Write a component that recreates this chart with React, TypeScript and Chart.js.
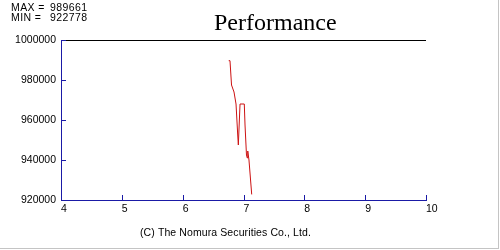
import React, { useEffect, useRef } from "react";
import { Chart, registerables } from "chart.js";

Chart.register(...registerables);

const xValues = [6.757, 6.778, 6.803, 6.844, 6.877, 6.905, 6.915, 6.943, 7.013, 7.025, 7.049, 7.062, 7.07, 7.09, 7.135];
const yValues = [989661, 989661, 977500, 974000, 968000, 952500, 947500, 968000, 968000, 957500, 942500, 941000, 944500, 940000, 922778];
const xTicks = [4, 5, 6, 7, 8, 9, 10];
const yTicks = [920000, 940000, 960000, 980000, 1000000];
const title = "Performance";
const maxLabel = "MAX =";
const minLabel = "MIN =";
const maxValue = "989661";
const minValue = "922778";
const copyright = "(C) The Nomura Securities Co., Ltd.";

const AXIS_BLUE = "#1a1aa6";
const LINE_RED = "#cc1111";
const SANS = "'Liberation Sans', Arial, sans-serif";

const decorPlugin = {
  id: "decor",
  afterDraw(chart: any) {
    const ctx = chart.ctx as CanvasRenderingContext2D;
    const { left, right, top, bottom } = chart.chartArea;
    const xs = chart.scales.x;
    const ys = chart.scales.y;
    ctx.save();
    // top black line
    ctx.strokeStyle = "#000";
    ctx.lineWidth = 1;
    ctx.beginPath();
    ctx.moveTo(left, Math.round(top) + 0.5);
    ctx.lineTo(right, Math.round(top) + 0.5);
    ctx.stroke();
    // inward ticks
    ctx.strokeStyle = AXIS_BLUE;
    ctx.beginPath();
    xTicks.forEach((v) => {
      const px = Math.round(xs.getPixelForValue(v)) + 0.5;
      ctx.moveTo(px, bottom);
      ctx.lineTo(px, bottom - 5);
    });
    yTicks.forEach((v) => {
      const py = Math.round(ys.getPixelForValue(v)) + 0.5;
      ctx.moveTo(left, py);
      ctx.lineTo(left + 5, py);
    });
    ctx.stroke();
    // frame border right/bottom
    ctx.strokeStyle = "#c4c4c4";
    ctx.beginPath();
    ctx.moveTo(498.5, 0);
    ctx.lineTo(498.5, 249);
    ctx.moveTo(0, 248.5);
    ctx.lineTo(499, 248.5);
    ctx.stroke();
    // texts
    ctx.fillStyle = "#000";
    ctx.textBaseline = "alphabetic";
    ctx.textAlign = "left";
    ctx.font = `10.5px ${SANS}`;
    (ctx as any).letterSpacing = "0.4px";
    ctx.fillText(maxLabel, 11, 11);
    ctx.fillText(maxValue, 50, 11);
    ctx.fillText(minLabel, 11, 20.5);
    ctx.fillText(minValue, 50, 20.5);
    (ctx as any).letterSpacing = "0px";
    ctx.font = `24px 'Liberation Serif', 'Times New Roman', serif`;
    ctx.fillText(title, 214, 29.5);
    ctx.font = `10.5px ${SANS}`;
    (ctx as any).letterSpacing = "0.1px";
    ctx.fillText(copyright, 140, 235.5);
    ctx.restore();
  },
};

export default function App() {
  const ref = useRef<HTMLCanvasElement | null>(null);
  useEffect(() => {
    if (!ref.current) return;
    const chart = new Chart(ref.current, {
      type: "line",
      data: {
        datasets: [
          {
            data: xValues.map((x, i) => ({ x, y: yValues[i] })),
            borderColor: LINE_RED,
            borderWidth: 1,
            pointRadius: 0,
            tension: 0,
            fill: false,
          },
        ],
      },
      options: {
        animation: false,
        responsive: false,
        devicePixelRatio: 1,
        layout: { padding: { top: 40, right: 74, left: 0, bottom: 0 } },
        plugins: { legend: { display: false }, tooltip: { enabled: false }, title: { display: false } },
        scales: {
          x: {
            type: "linear",
            min: 4,
            max: 10,
            afterBuildTicks: (s: any) => {
              s.ticks = xTicks.map((v) => ({ value: v }));
            },
            afterFit: (s: any) => {
              s.height = 50;
            },
            grid: { display: false, drawTicks: false },
            border: { display: true, color: AXIS_BLUE, width: 1 },
            ticks: {
              align: "start",
              padding: 3,
              color: "#000",
              maxRotation: 0,
              font: { family: SANS, size: 10.5 },
              callback: (v: any) => String(v),
            },
          },
          y: {
            type: "linear",
            min: 920000,
            max: 1000000,
            afterBuildTicks: (s: any) => {
              s.ticks = yTicks.map((v) => ({ value: v }));
            },
            afterFit: (s: any) => {
              s.width = 61;
            },
            grid: { display: false, drawTicks: false },
            border: { display: true, color: AXIS_BLUE, width: 1 },
            ticks: {
              padding: 5,
              color: "#000",
              font: { family: SANS, size: 10.5 },
              callback: (v: any) => String(v),
            },
          },
        },
      },
      plugins: [decorPlugin],
    } as any);
    return () => chart.destroy();
  }, []);
  return (
    <div style={{ position: "absolute", left: 0, top: 0, width: 500, height: 250, background: "#fff" }}>
      <canvas ref={ref} width={500} height={250} style={{ display: "block" }} />
    </div>
  );
}
